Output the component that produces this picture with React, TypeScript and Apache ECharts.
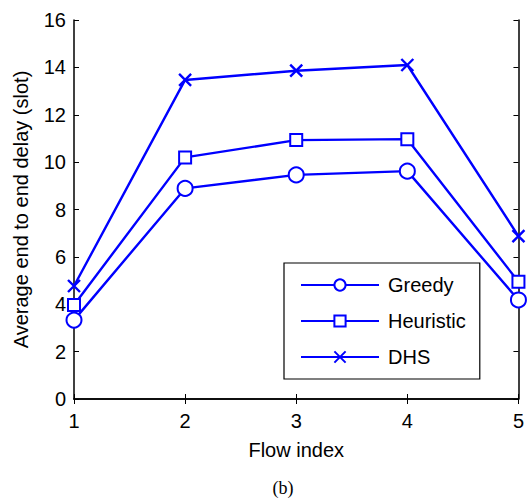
import React, { useEffect, useRef } from "react";
import * as echarts from "echarts";

const flowIndex = [1, 2, 3, 4, 5];
const greedy = [3.33, 8.89, 9.46, 9.62, 4.18];
const heuristic = [3.97, 10.2, 10.93, 10.97, 4.95];
const dhs = [4.77, 13.47, 13.86, 14.1, 6.88];
const seriesNames = ["Greedy", "Heuristic", "DHS"];

const BLUE = "#0000ff";
const FONT = "Liberation Sans";
const FS = 20;
const LW = 2.4;

export default function App() {
  const ref = useRef<HTMLDivElement>(null);
  useEffect(() => {
    if (!ref.current) return;
    const chart = echarts.init(ref.current, null, { renderer: "svg" });
    const pairs = (vals: number[]) => flowIndex.map((x, i) => [x, vals[i]]);
    const axisCommon = {
      axisLine: { show: true, lineStyle: { color: "#000", width: 1.5 } },
      splitLine: { show: false },
      axisTick: { show: true, inside: true, length: 5, lineStyle: { color: "#000" } },
    };
    chart.setOption({
      animation: false,
      backgroundColor: "#fff",
      grid: { left: 74, top: 20, right: 7, bottom: 99, containLabel: false },
      xAxis: [
        {
          type: "value",
          min: 1,
          max: 5,
          interval: 1,
          name: "Flow index",
          nameLocation: "middle",
          nameGap: 41,
          nameTextStyle: { fontFamily: FONT, fontSize: FS, color: "#000" },
          ...axisCommon,
          axisLabel: { fontFamily: FONT, fontSize: FS, color: "#000", margin: 12 },
        },
        {
          type: "value",
          position: "top",
          min: 1,
          max: 5,
          interval: 1,
          ...axisCommon,
          axisLabel: { show: false },
        },
      ],
      yAxis: [
        {
          type: "value",
          min: 0,
          max: 16,
          interval: 2,
          name: "Average end to end delay (slot)",
          nameLocation: "middle",
          nameGap: 43,
          nameTextStyle: { fontFamily: FONT, fontSize: FS, color: "#000" },
          ...axisCommon,
          axisLabel: { fontFamily: FONT, fontSize: FS, color: "#000", margin: 8 },
        },
        {
          type: "value",
          position: "right",
          min: 0,
          max: 16,
          interval: 2,
          ...axisCommon,
          axisLabel: { show: false },
        },
      ],
      legend: {
        orient: "vertical",
        left: 284,
        top: 263,
        data: seriesNames,
        backgroundColor: "#fff",
        borderColor: "#000",
        borderWidth: 1.2,
        padding: [12, 14, 12, 16],
        itemWidth: 78,
        itemHeight: 14,
        itemGap: 16,
        textStyle: { fontFamily: FONT, fontSize: FS, color: "#000", padding: [0, 0, 0, 4] },
      },
      series: [
        {
          name: "Greedy",
          type: "line",
          data: pairs(greedy),
          color: BLUE,
          symbol: "emptyCircle",
          symbolSize: 15,
          lineStyle: { color: BLUE, width: LW },
          itemStyle: { color: BLUE, borderColor: BLUE, borderWidth: LW },
          z: 3,
        },
        {
          name: "Heuristic",
          type: "line",
          data: pairs(heuristic),
          color: BLUE,
          symbol: "emptyRect",
          symbolSize: 12,
          lineStyle: { color: BLUE, width: LW },
          itemStyle: { color: BLUE, borderColor: BLUE, borderWidth: LW },
          z: 3,
        },
        {
          name: "DHS",
          type: "line",
          data: pairs(dhs),
          color: BLUE,
          symbol: "path://M0,0L10,10M10,0L0,10",
          symbolSize: 12,
          lineStyle: { color: BLUE, width: LW },
          itemStyle: { color: "none", borderColor: BLUE, borderWidth: LW },
          z: 3,
        },
      ],
      graphic: [
        {
          type: "text",
          x: 283,
          y: 488,
          style: {
            text: "(b)",
            font: "18px 'Liberation Serif'",
            fill: "#000",
            textAlign: "center",
            textVerticalAlign: "middle",
          },
        },
      ],
    });
    return () => chart.dispose();
  }, []);
  return <div ref={ref} style={{ width: 527, height: 498, position: "absolute", left: 0, top: 0 }} />;
}
